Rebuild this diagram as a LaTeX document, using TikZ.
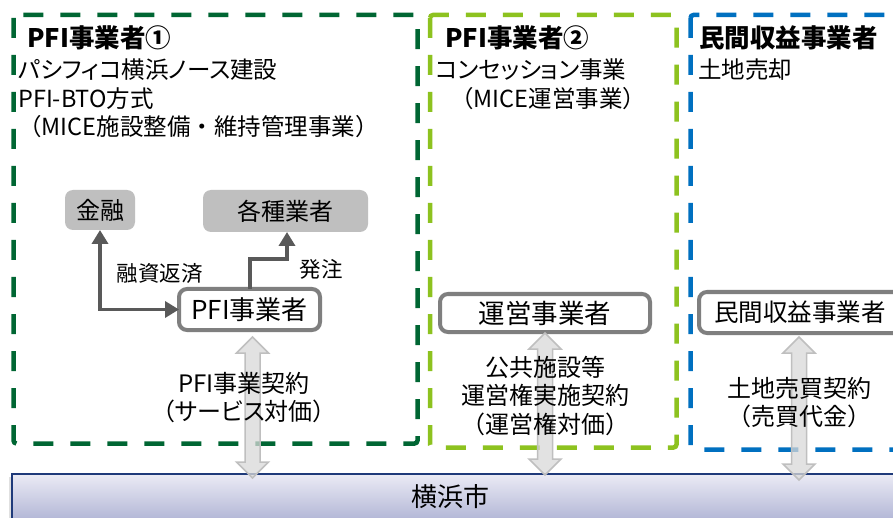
\documentclass[tikz,border=0pt]{standalone}
\usepackage{fontspec}
\setmainfont{Noto Sans CJK JP}
\newfontfamily\jpp{Noto Sans CJK JP}[RawFeature=+palt]
\usetikzlibrary{arrows.meta,calc}
\definecolor{dgreen}{HTML}{006633}
\definecolor{lgreen}{HTML}{8DC21F}
\definecolor{mblue}{HTML}{0070C0}
\definecolor{boxgray}{HTML}{7F7F7F}
\definecolor{fillgray}{HTML}{BFBFBF}
\definecolor{arrgray}{HTML}{595959}
\definecolor{navy}{HTML}{1F3A7A}
\definecolor{bartop}{HTML}{EBEBF5}
\definecolor{barbot}{HTML}{B2B6D6}
\newcommand{\dbarrow}[2]{%
  \path[blockarr] let \p1=#1, \p2=#2 in
   (\x1,\y1) -- (\x1+16pt,\y1-16pt) -- (\x1+7.5pt,\y1-16pt) -- (\x1+7.5pt,\y2+16pt)
   -- (\x1+16pt,\y2+16pt) -- (\x1,\y2) -- (\x1-16pt,\y2+16pt) -- (\x1-7.5pt,\y2+16pt)
   -- (\x1-7.5pt,\y1-16pt) -- (\x1-16pt,\y1-16pt) -- cycle;}
\tikzset{
  dashbox/.style={line width=4.5pt, dash pattern=on 20pt off 17pt, rounded corners=3pt},
  title/.style={font=\fontsize{25.5}{30}\selectfont\bfseries, anchor=west, inner sep=0pt},
  body/.style={font=\fontsize{23.5}{28.5}\selectfont, anchor=west, inner sep=0pt},
  graybox/.style={fill=fillgray, rounded corners=8pt, inner sep=0pt, outer sep=0pt, font=\fontsize{24}{28}\selectfont},
  whitebox/.style={draw=boxgray, line width=4pt, fill=white, rounded corners=8pt, inner sep=0pt, outer sep=0pt, font=\fontsize{24.5}{28}\selectfont},
  lbl/.style={font=\fontsize{24}{28.5}\selectfont, align=center, inner sep=0pt},
  smalllbl/.style={font=\fontsize{21.5}{26}\selectfont, inner sep=0pt},
  conn/.style={draw=arrgray, line width=3.5pt, -{Triangle[width=16pt,length=14pt]}},
  conn2/.style={draw=arrgray, line width=3.5pt, {Triangle[width=16pt,length=14pt]}-{Triangle[width=16pt,length=14pt]}},
  blockarr/.style={fill=black!15, fill opacity=0.75, draw=black!25, line width=1.5pt}
}
\begin{document}
\begin{tikzpicture}[x=1pt,y=-1pt]
\clip (0,0) rectangle (893,518);
\useasboundingbox (0,0) rectangle (893,518);
\fill[white] (0,0) rectangle (893,518);

% group frames
\draw[dashbox, dgreen] (13.5,15) rectangle (417.5,443.5);
\draw[dashbox, lgreen] (430,15) rectangle (676.5,447.5);
\draw[dashbox, mblue] (690.5,15) rectangle (930,449.5);

% city bar
\fill[black!12] (9,477) rectangle (14,530);
\node[draw=navy, line width=2pt, top color=bartop, bottom color=barbot,
      minimum width=886pt, minimum height=46pt, inner sep=0pt, outer sep=0pt] (city) at (455,497) {};
\node[font=\fontsize{26}{30}\selectfont, inner sep=0pt] (citylabel) at (450.5,497) {横浜市};

% boxes
\node[graybox, minimum width=70pt, minimum height=40pt] (kinyu) at (100,210) {金融};
\node[graybox, minimum width=165pt, minimum height=42pt] (gyosha) at (285.5,211) {各種業者};
\node[whitebox, minimum width=141pt, minimum height=41pt, font=\fontsize{26}{28}\selectfont] (pfi) at (249.5,309.5) {PFI事業者};
\node[whitebox, minimum width=210pt, minimum height=38pt, font=\fontsize{26.5}{28}\selectfont] (unei) at (545,313) {運営事業者};
\node[whitebox, minimum width=202pt, minimum height=41pt] (minkan) at (800,312.5) {民間収益事業者};

% connectors
\draw[conn2] (pfi.west) -| (kinyu.south);
\draw[conn] ($(pfi.north)+(0.5,0)$) -- ++(0,-30) -| ($(gyosha.south)+(1.5,0)$);
\node[smalllbl] (l1) at (159.5,273) {融資返済};
\node[smalllbl] (l2) at (321,269) {発注};

% block arrows
\dbarrow{($(pfi.south)+(3,7)$)}{($(city.north)+(0,4)$)}
\dbarrow{($(unei.south)+(0,1)$)}{($(city.north)+(0,1)$)}
\dbarrow{($(minkan.south)+(-1,4)$)}{($(city.north)+(0,6)$)}

% contract labels
\node[lbl] (c1) at (244,397.5) {PFI事業契約\\{\jpp （サービス対価）}};
\node[lbl] (c2) at (545,396) {公共施設等\\運営権実施契約\\（運営権対価）};
\node[lbl] (c3) at (799,402.5) {土地売買契約\\（売買代金）};

% header texts
\node[title] (t1) at (27,38) {PFI事業者①};
\node[body] (t1a) at (18,70) {\jpp パシフィコ横浜ノース建設};
\node[body] (t1b) at (18,98.5) {PFI-BTO方式};
\node[body] (t1c) at (18,126.5) {（MICE施設整備・維持管理事業）};

\node[title] (t2) at (445,38) {PFI事業者②};
\node[body] (t2a) at (435,70) {\jpp コンセッション事業};
\node[body] (t2b) at (450,98.5) {（MICE運営事業）};

\node[title] (t3) at (699,38) {民間収益事業者};
\node[body] (t3a) at (698,70) {土地売却};
\end{tikzpicture}
\end{document}
